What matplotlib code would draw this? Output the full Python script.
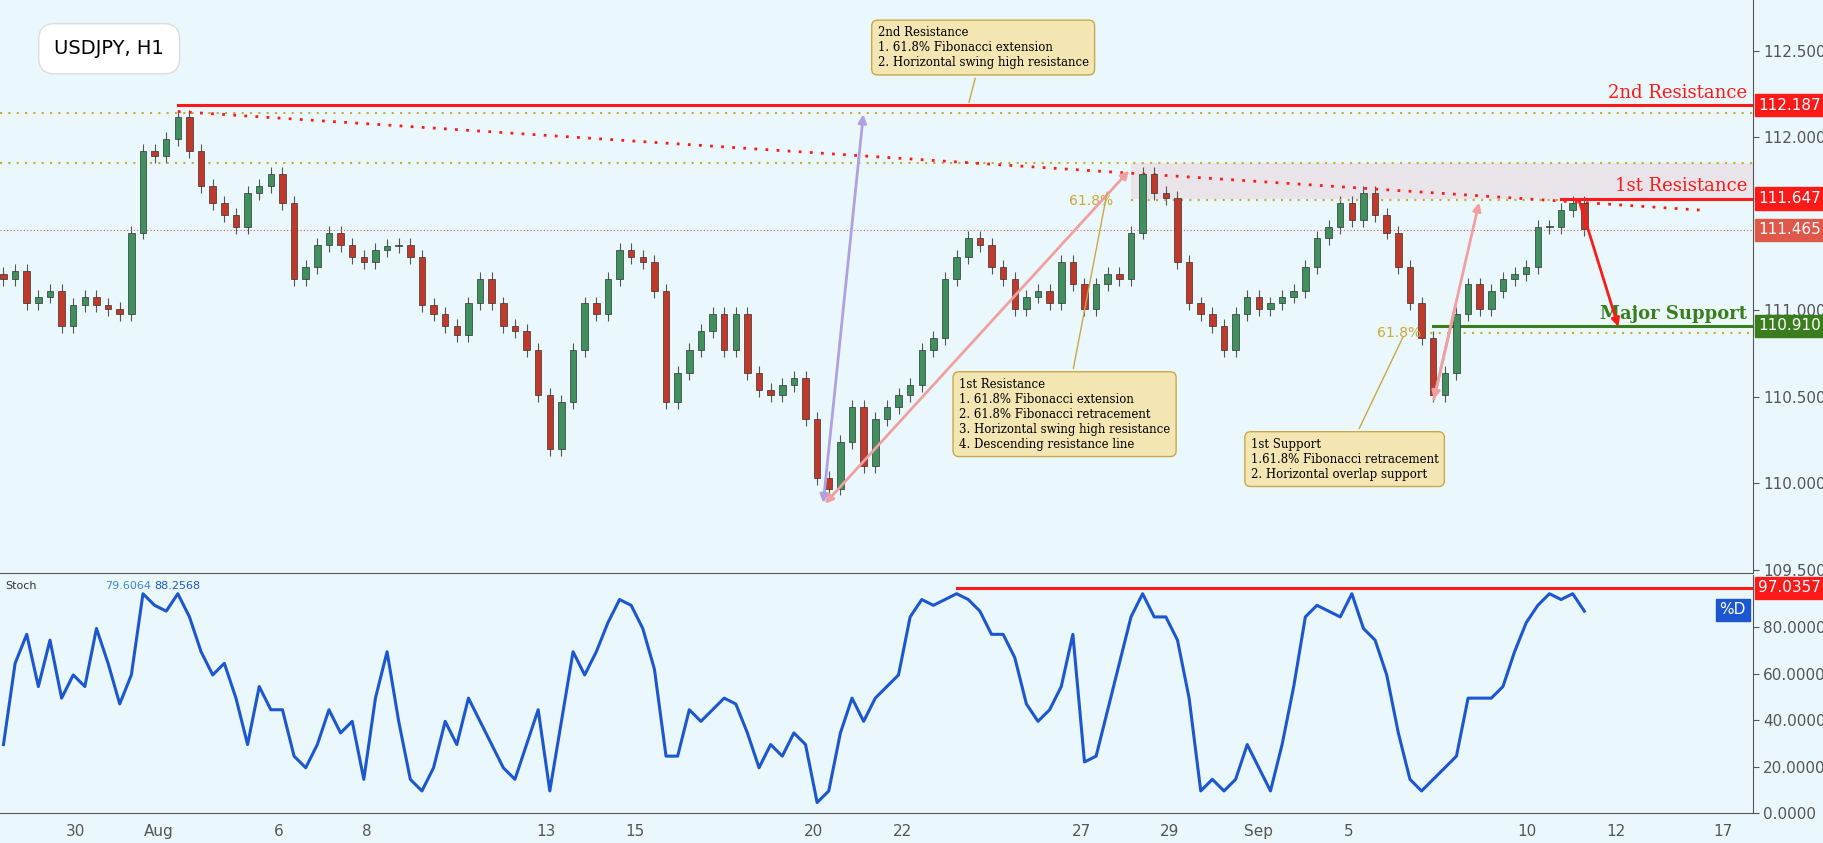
import numpy as np
import matplotlib.pyplot as plt
from matplotlib.patches import Rectangle

# hourly-ish closes, sampled about every 10 px of the reference
closes = [111.18, 111.23, 111.04, 111.08, 111.11, 110.91, 111.03, 111.08, 111.03, 111.01,
          110.98, 111.45, 111.92, 111.89, 111.99, 112.12, 111.92, 111.72, 111.62, 111.55,
          111.48, 111.68, 111.72, 111.79, 111.62, 111.18, 111.25, 111.38, 111.45, 111.38,
          111.31, 111.28, 111.35, 111.37, 111.38, 111.31, 111.03, 110.98, 110.91, 110.86,
          111.04, 111.18, 111.04, 110.91, 110.88, 110.77, 110.51, 110.20, 110.47, 110.77,
          111.04, 110.98, 111.18, 111.35, 111.31, 111.28, 111.11, 110.47, 110.64, 110.77,
          110.88, 110.98, 110.77, 110.98, 110.64, 110.54, 110.51, 110.57, 110.61, 110.37,
          110.03, 109.97, 110.24, 110.44, 110.10, 110.37, 110.44, 110.51, 110.57, 110.77,
          110.84, 111.18, 111.31, 111.42, 111.38, 111.25, 111.18, 111.01, 111.08, 111.11,
          111.04, 111.28, 111.15, 111.01, 111.15, 111.21, 111.18, 111.45, 111.79, 111.68,
          111.65, 111.28, 111.04, 110.98, 110.91, 110.77, 110.98, 111.08, 111.01, 111.04,
          111.08, 111.11, 111.25, 111.42, 111.48, 111.62, 111.52, 111.68, 111.55, 111.45,
          111.25, 111.04, 110.84, 110.51, 110.64, 110.98, 111.15, 111.01, 111.11, 111.18,
          111.21, 111.25, 111.48, 111.48, 111.58, 111.62, 111.47]

stoch_d = [29.5, 64.5, 77, 54.5, 74.5, 49.5, 59.5, 54.5, 79.5, 64.5,
           47, 59.5, 94.5, 89.5, 87, 94.5, 84.5, 69.5, 59.5, 64.5,
           49.5, 29.5, 54.5, 44.5, 44.5, 24.5, 19.5, 29.5, 44.5, 34.5,
           39.5, 14.5, 49.5, 69.5, 39.5, 14.5, 9.5, 19.5, 39.5, 29.5,
           49.5, 39.5, 29.5, 19.5, 14.5, 29.5, 44.5, 9.5, 39.5, 69.5,
           59.5, 69.5, 82, 92, 89.5, 79.5, 62, 24.5, 24.5, 44.5,
           39.5, 44.5, 49.5, 47, 34.5, 19.5, 29.5, 24.5, 34.5, 29.5,
           4.5, 9.5, 34.5, 49.5, 39.5, 49.5, 54.5, 59.5, 84.5, 92,
           89.5, 92, 94.5, 92, 87, 77, 77, 67, 47, 39.5,
           44.5, 54.5, 77, 22, 24.5, 44.5, 64.5, 84.5, 94.5, 84.5,
           84.5, 74.5, 49.5, 9.5, 14.5, 9.5, 14.5, 29.5, 19.5, 9.5,
           29.5, 54.5, 84.5, 89.5, 87, 84.5, 94.5, 79.5, 74.5, 59.5,
           34.5, 14.5, 9.5, 14.5, 19.5, 24.5, 49.5, 49.5, 49.5, 54.5,
           69.5, 82, 89.5, 94.5, 92, 94.5, 87]

date_labels = ["30", "Aug", "6", "8", "13", "15", "20", "22", "27", "29", "Sep", "5", "10", "12", "17"]
date_pos = [6.2, 13.4, 23.7, 31.3, 46.7, 54.3, 69.7, 77.3, 92.7, 100.3, 108, 115.7, 131.1, 138.7, 147.9]

res2 = 112.187
res1 = 111.647
last_price = 111.465
support = 110.910
stoch_res = 97.0357

BG = "#eaf8fd"
UP = "#3f8f5f"
DOWN = "#c0392b"
RED = "#ff1a1a"
GREEN = "#3a7d1e"
GOLD = "#c9a93a"
PINK = "#f0a0a0"

fig = plt.figure(figsize=(18.24, 8.43), dpi=100)
fig.patch.set_facecolor(BG)
ax = fig.add_axes([0, 0.320, 0.961, 0.680])
ax2 = fig.add_axes([0, 0.0356, 0.961, 0.2824])
for a in (ax, ax2):
    a.set_facecolor(BG)
    a.set_xlim(-0.3, 150.5)
    a.yaxis.tick_right()
    a.tick_params(axis="y", colors="#555555", labelsize=11, length=4)
    for s in ("top", "left"):
        a.spines[s].set_visible(False)
    a.spines["right"].set_color("#555555")
    a.spines["bottom"].set_color("#555555")

# candles
opens = [closes[0] + 0.03] + closes[:-1]
for i, (o, c) in enumerate(zip(opens, closes)):
    col = UP if c >= o else DOWN
    ax.vlines(i, min(o, c) - 0.04, max(o, c) + 0.04, color="#555555", lw=0.8, zorder=2)
    ax.add_patch(Rectangle((i - 0.28, min(o, c)), 0.56, max(abs(c - o), 0.008),
                           facecolor=col, edgecolor="#333333", lw=0.5, zorder=3))

ax.set_ylim(109.48, 112.795)
ax.set_yticks([109.5, 110.0, 110.5, 111.0, 112.0, 112.5])
ax.set_yticklabels(["109.500", "110.000", "110.500", "111.000", "112.000", "112.500"])
ax.set_xticks([])

# levels
ax.axhline(112.14, color=GOLD, ls=(0, (1, 3)), lw=1.5)
ax.axhline(111.85, color=GOLD, ls=(0, (1, 3)), lw=1.5)
ax.plot([97, 150.5], [111.64, 111.64], color=GOLD, ls=(0, (1, 3)), lw=1.5)
ax.plot([122, 150.5], [110.87, 110.87], color=GOLD, ls=(0, (1, 3)), lw=1.5)
ax.axhline(last_price, color="#e06050", ls=(0, (1, 2)), lw=0.8)
ax.add_patch(Rectangle((97, res1), 53.5, 111.85 - res1, facecolor="#e8e0e4", alpha=0.8, zorder=1))
ax.plot([15, 150.5], [res2, res2], color=RED, lw=2.2)
ax.plot([134, 150.5], [res1, res1], color=RED, lw=2.2)
ax.plot([123, 150.5], [support, support], color=GREEN, lw=2.2)
ax.plot([15, 146], [112.15, 111.58], color=RED, ls=(0, (1, 3)), lw=2)
ax.text(150, res2 + 0.02, "2nd Resistance", color=RED, ha="right", va="bottom", fontsize=13, family="DejaVu Serif")
ax.text(150, res1 + 0.02, "1st Resistance", color=RED, ha="right", va="bottom", fontsize=13, family="DejaVu Serif")
ax.text(150, support + 0.02, "Major Support", color=GREEN, ha="right", va="bottom", fontsize=13, family="DejaVu Serif", weight="bold")
ax.text(95.5, 111.63, "61.8%", color=GOLD, ha="right", va="center", fontsize=10)
ax.text(122, 110.87, "61.8%", color=GOLD, ha="right", va="center", fontsize=10)

for val, col in ((res2, RED), (res1, RED), (last_price, "#e0584a"), (support, GREEN)):
    ax.annotate(f"{val:.3f}", xy=(1.0, val), xycoords=("axes fraction", "data"),
                xytext=(4, 0), textcoords="offset points", color="white", fontsize=11,
                va="center", ha="left", annotation_clip=False,
                bbox=dict(boxstyle="square,pad=0.25", fc=col, ec=col))


def arrow(a, x0, y0, x1, y1, col, both=False):
    a.annotate("", xy=(x1, y1), xytext=(x0, y0),
               arrowprops=dict(arrowstyle="<|-|>" if both else "-|>", color=col, lw=2, mutation_scale=12))


arrow(ax, 70.5, 109.87, 74, 112.15, "#b0a0e0", both=True)
arrow(ax, 70.5, 109.87, 97, 111.82, PINK, both=True)
arrow(ax, 125, 111.05, 123, 110.47, PINK)
arrow(ax, 123, 110.47, 127, 111.64, PINK)
arrow(ax, 135.5, res1, 139, 110.89, RED)

# callouts
box = dict(boxstyle="round,pad=0.5", fc="#f3e6b3", ec="#c8a84a", lw=1)
ax.annotate("2nd Resistance\n1. 61.8% Fibonacci extension\n2. Horizontal swing high resistance",
            xy=(83, res2), xytext=(75.2, 112.52), fontsize=8.5, family="DejaVu Serif",
            bbox=box, va="center", arrowprops=dict(arrowstyle="-", color="#c8a84a"))
ax.annotate("1st Resistance\n1. 61.8% Fibonacci extension\n2. 61.8% Fibonacci retracement\n"
            "3. Horizontal swing high resistance\n4. Descending resistance line",
            xy=(95, 111.7), xytext=(82.2, 110.4), fontsize=8.5, family="DejaVu Serif",
            bbox=box, va="center", arrowprops=dict(arrowstyle="-", color="#c8a84a"))
ax.annotate("1st Support\n1.61.8% Fibonacci retracement\n2. Horizontal overlap support",
            xy=(120.5, 110.86), xytext=(107.3, 110.14), fontsize=8.5, family="DejaVu Serif",
            bbox=box, va="center", arrowprops=dict(arrowstyle="-", color="#c8a84a"))
ax.text(0.031, 0.915, "USDJPY, H1", transform=ax.transAxes, fontsize=14, va="center",
        bbox=dict(boxstyle="round,pad=0.8", fc="white", ec="#dddddd"))

# stochastic
ax2.plot(np.arange(len(stoch_d)), stoch_d, color="#1c56d0", lw=2.2)
ax2.set_ylim(0, 102.6)
ax2.set_yticks([0, 20, 40, 60, 80])
ax2.set_yticklabels([f"{v:.4f}" for v in [0, 20, 40, 60, 80]])
ax2.plot([82, 150.5], [stoch_res, stoch_res], color=RED, lw=2.2)
ax2.annotate(f"{stoch_res:.4f}", xy=(1.0, stoch_res), xycoords=("axes fraction", "data"),
             xytext=(4, 0), textcoords="offset points", color="white", fontsize=11,
             va="center", ha="left", annotation_clip=False,
             bbox=dict(boxstyle="square,pad=0.25", fc=RED, ec=RED))
ax2.text(0.996, 87.5, "%D", transform=ax2.get_yaxis_transform(), color="white", fontsize=11,
         ha="right", va="center", bbox=dict(boxstyle="square,pad=0.25", fc="#1c56d0", ec="#1c56d0"))
ax2.text(0.003, 0.955, "Stoch", transform=ax2.transAxes, fontsize=8, color="#333333", va="center")
ax2.text(0.060, 0.955, "79.6064", transform=ax2.transAxes, fontsize=8, color="#3a8ad8", va="center")
ax2.text(0.088, 0.955, "88.2568", transform=ax2.transAxes, fontsize=8, color="#1c56d0", va="center")
ax2.set_xticks(date_pos)
ax2.set_xticklabels(date_labels)
ax2.tick_params(axis="x", colors="#555555", labelsize=11, length=0, pad=8)

fig.savefig("out.png", dpi=100, facecolor=BG)
